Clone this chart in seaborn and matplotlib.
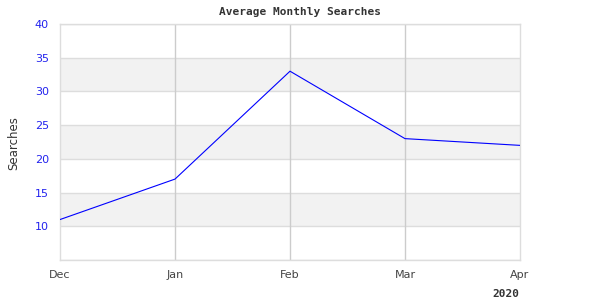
import numpy as np
import pandas as pd
import matplotlib
matplotlib.use("Agg")
import matplotlib.pyplot as plt
import seaborn as sns

months = ["Dec", "Jan", "Feb", "Mar", "Apr"]
searches = [11, 17, 33, 23, 22]
y_ticks = [10, 15, 20, 25, 30, 35, 40]
title = "Average Monthly Searches"
y_label = "Searches"
year_label = "2020"

sns.set_theme(style="white")
plt.rcParams['font.family'] = ['DejaVu Sans']

df = pd.DataFrame({"pos": np.arange(len(months)), "Searches": searches})

fig = plt.figure(figsize=(6, 3), dpi=100)
ax = fig.add_axes([60/600, 1-260/300, 460/600, 236/300])

ax.set_xlim(0, len(months) - 1)
ax.set_ylim(5, 40)

# alternating bands
for lo in range(10, 40, 10):
    ax.axhspan(lo, lo + 5, color="#f2f2f2", zorder=0, lw=0)
for yv in range(5, 41, 5):
    ax.axhline(yv, color="#dddddd", lw=1, zorder=1)
for xv in range(1, len(months) - 1):
    ax.axvline(xv, color="#cccccc", lw=1, zorder=1)

sns.lineplot(data=df, x="pos", y="Searches", ax=ax, color="#0000ff", lw=0.8, zorder=3)

ax.set_xticks(range(len(months)))
ax.set_xticklabels(months)
ax.set_yticks(y_ticks)
ax.set_yticklabels([str(v) for v in y_ticks])
ax.tick_params(axis="y", labelsize=8, length=0, pad=8)
ax.tick_params(axis="x", labelsize=8, length=0, pad=7)
for lab in ax.get_yticklabels():
    lab.set_color("#2222ee")
for lab in ax.get_xticklabels():
    lab.set_color("#444444")

for s in ax.spines.values():
    s.set_color("#dddddd")
    s.set_linewidth(1)

ax.set_xlabel("")
ax.set_ylabel("")
fig.text(14/600, 1-143/300, y_label, rotation=90, ha="center", va="center",
         fontsize=8.5, color="#333333")
fig.text(0.5, 1-12/300, title, ha="center", va="center", fontsize=8,
         fontweight="bold", family="DejaVu Sans Mono", color="#333333")
fig.text(506/600, 1-294/300, year_label, ha="center", va="center", fontsize=8,
         fontweight="bold", family="DejaVu Sans Mono", color="#333333")

fig.savefig("out.png", dpi=100)
